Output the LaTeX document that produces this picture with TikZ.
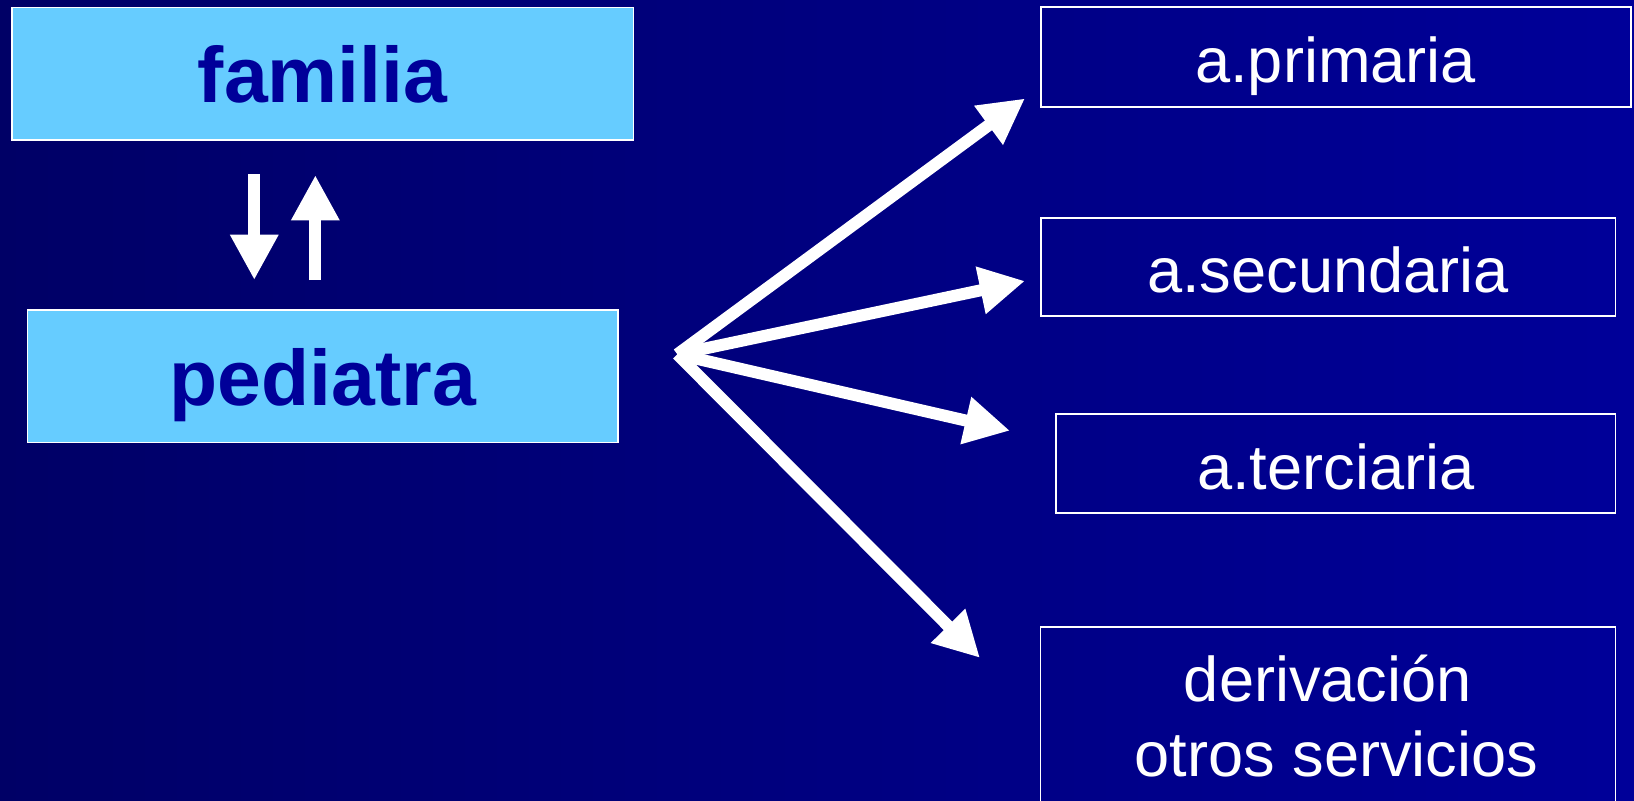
\documentclass[tikz,border=0pt]{standalone}
\usepackage{fontspec}
\setmainfont{Liberation Sans}
\usetikzlibrary{arrows.meta}
\definecolor{bgleft}{RGB}{0,0,102}
\definecolor{bgright}{RGB}{0,0,153}
\definecolor{lightbox}{RGB}{102,204,255}
\definecolor{darktext}{RGB}{0,0,153}
\begin{document}
\begin{tikzpicture}[x=0.02cm,y=-0.02cm,
  lightnode/.style={draw=white, line width=0.03cm, fill=lightbox, text=darktext,
    font=\fontsize{43}{50}\selectfont\bfseries, inner sep=0pt,
    text height=1.12cm, text depth=0pt},
  darknode/.style={draw=white, line width=0.035cm, text=white,
    font=\fontsize{34.5}{41}\selectfont, inner sep=0pt,
    text height=0.98cm, text depth=0pt},
  plaintext/.style={text=white, font=\fontsize{34.5}{41}\selectfont, inner sep=0pt, anchor=base},
  fat/.style={draw=white, line width=0.23cm, -{Triangle[width=0.87cm,length=0.87cm]}},
]
\useasboundingbox (0,0) rectangle (1568,767.7);
\clip (0,0) rectangle (1568,767.7);
\shade[left color=bgleft, right color=bgright] (0,0) rectangle (1568,767.7);

% left boxes
\node[lightnode, minimum width=11.934cm, minimum height=2.548cm] (fam) at (309.65,70.7) {familia};
\node[lightnode, minimum width=11.334cm, minimum height=2.546cm] (ped) at (309.65,361.15) {pediatra};

% right boxes
\node[darknode, minimum width=11.326cm, minimum height=1.908cm] (prim) at (1281.65,54.7) {a.primaria};
\node[darknode, minimum width=11.034cm, minimum height=1.874cm] (sec) at (1274.35,256.35) {a.secundaria};
\node[darknode, minimum width=10.738cm, minimum height=1.906cm] (ter) at (1281.75,444.95) {a.terciaria};
\node[draw=white, line width=0.035cm, minimum width=11.036cm, minimum height=4cm, inner sep=0pt] (deriv) at (1274.3,701.4) {};
\node[plaintext] (derivA) at (1274.3,673.3) {derivación};
\node[plaintext] (derivB) at (1282.5,745.3) {otros servicios};

% vertical arrows
\coordinate (dtop) at (244,167);
\coordinate (dbot) at (244,268.7);
\coordinate (ubot) at (302.6,268.7);
\coordinate (utop) at (302.6,168);
\draw[fat] (dtop) -- (dbot);
\draw[fat] (ubot) -- (utop);

% fan arrows
\coordinate (src) at (650,340);
\coordinate (t1) at (983.6,94.5);
\coordinate (t2) at (983.6,269.6);
\coordinate (t3) at (969.2,413.3);
\coordinate (t4) at (940.4,631.3);
\draw[fat] (src) -- (t1);
\draw[fat] (src) -- (t2);
\draw[fat] (src) -- (t3);
\draw[fat] (src) -- (t4);
\end{tikzpicture}
\end{document}
